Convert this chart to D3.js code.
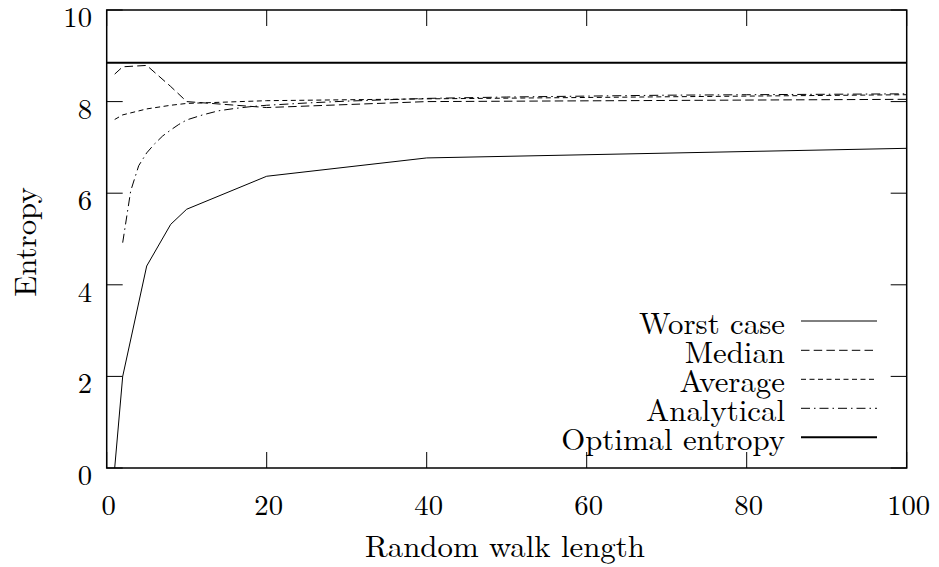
<!DOCTYPE html>
<html>
<head>
<meta charset="utf-8">
<script src="https://cdn.jsdelivr.net/npm/d3@7"></script>
<style>
  html, body { margin: 0; padding: 0; background: #fff; }
</style>
</head>
<body>
<svg id="chart" width="939" height="567"></svg>
<script>
// Walk lengths at which the simulations were sampled
const walkLengths = [1, 2, 5, 8, 10, 20, 40, 100];
const worstCase = [0, 2.0, 4.41, 5.32, 5.65, 6.37, 6.77, 6.98];
const median = [8.6, 8.76, 8.79, 8.33, 8.0, 7.87, 8.0, 8.05];
const average = [7.61, 7.71, 7.84, 7.92, 7.96, 8.02, 8.06, 8.15];

// Analytical prediction, evaluated on a finer grid
const analyticalX = [2, 3, 4, 5, 6, 7, 8, 9, 10, 12, 14, 16, 18, 20, 25, 30, 40, 50, 60, 70, 80, 90, 100];
const analyticalY = [4.92, 6.05, 6.6, 6.88, 7.08, 7.25, 7.38, 7.5, 7.6, 7.71, 7.8, 7.85, 7.89, 7.92, 7.97, 8.01, 8.07, 8.1, 8.12, 8.14, 8.15, 8.16, 8.17];

// Optimal entropy bound
const optimalX = [0, 100];
const optimalY = [8.85, 8.85];

const xTicks = [0, 20, 40, 60, 80, 100];
const yTicks = [0, 2, 4, 6, 8, 10];

const seriesNames = ["Worst case", "Median", "Average", "Analytical", "Optimal entropy"];

// Pick the first installed serif face (measured against two different fallbacks)
const candidates = ["Latin Modern Roman", "CMU Serif", "Liberation Serif", "DejaVu Serif", "Noto Serif",
  "Tinos", "Times New Roman", "FreeSerif", "Nimbus Roman", "TeX Gyre Termes"];
const ctx = document.createElement("canvas").getContext("2d");
function installed(name) {
  const probe = "Random walk length 0123456789";
  ctx.font = `40px monospace`; const m0 = ctx.measureText(probe).width;
  ctx.font = `40px sans-serif`; const s0 = ctx.measureText(probe).width;
  ctx.font = `40px "${name}", monospace`; const m1 = ctx.measureText(probe).width;
  ctx.font = `40px "${name}", sans-serif`; const s1 = ctx.measureText(probe).width;
  return m1 !== m0 || s1 !== s0;
}
const face = candidates.find(installed);
const fontFamily = face ? `"${face}", serif` : "serif";

const svg = d3.select("#chart");
const plotLeft = 106.7, plotRight = 906.7, plotTop = 10, plotBottom = 468;

const x = d3.scaleLinear().domain([0, 100]).range([plotLeft, plotRight]);
const y = d3.scaleLinear().domain([0, 10]).range([plotBottom, plotTop]);

const tickLen = 16;

// Size text so that a sample string spans a given width in the chosen face
function sizeFor(sample, width) {
  ctx.font = `100px ${fontFamily}`;
  return 100 * width / ctx.measureText(sample).width;
}
const tickSize = Math.min(32, sizeFor("100", 43));
const labelSize = Math.min(36, sizeFor("Random walk length", 280));

function label(sel, size) {
  return sel.attr("font-family", fontFamily).attr("font-size", size).attr("fill", "#000");
}

// Ticks on all four sides, pointing inward
const g = svg.append("g");
xTicks.forEach(t => {
  g.append("line").attr("x1", x(t)).attr("x2", x(t)).attr("y1", plotBottom).attr("y2", plotBottom - tickLen)
    .attr("stroke", "#000").attr("stroke-width", 1);
  g.append("line").attr("x1", x(t)).attr("x2", x(t)).attr("y1", plotTop).attr("y2", plotTop + tickLen)
    .attr("stroke", "#000").attr("stroke-width", 1);
  label(g.append("text"), tickSize).attr("x", x(t) + 2).attr("y", 515).attr("text-anchor", "middle").text(t);
});
yTicks.forEach(t => {
  g.append("line").attr("x1", plotLeft).attr("x2", plotLeft + tickLen).attr("y1", y(t)).attr("y2", y(t))
    .attr("stroke", "#000").attr("stroke-width", 1);
  g.append("line").attr("x1", plotRight).attr("x2", plotRight - tickLen).attr("y1", y(t)).attr("y2", y(t))
    .attr("stroke", "#000").attr("stroke-width", 1);
  label(g.append("text"), tickSize).attr("x", 92).attr("y", y(t) + 17).attr("text-anchor", "end").text(t);
});

// Axis titles
label(svg.append("text"), labelSize).attr("x", 505).attr("y", 557).attr("text-anchor", "middle")
  .text("Random walk length");
label(svg.append("text"), labelSize).attr("transform", "translate(36,242) rotate(-90)").attr("text-anchor", "middle")
  .text("Entropy");

// Series lines
const line = d3.line().x(d => x(d[0])).y(d => y(d[1]));
const styles = [
  { dash: null, width: 1 },
  { dash: "8.5,4.2", width: 1 },
  { dash: "5,3.5", width: 1 },
  { dash: "9,4,1.5,4", width: 1 },
  { dash: null, width: 2 }
];
const seriesData = [
  d3.zip(walkLengths, worstCase),
  d3.zip(walkLengths, median),
  d3.zip(walkLengths, average),
  d3.zip(analyticalX, analyticalY),
  d3.zip(optimalX, optimalY)
];

const plot = svg.append("g");
seriesData.forEach((d, i) => {
  plot.append("path").datum(d).attr("d", line).attr("fill", "none")
    .attr("stroke", "#000").attr("stroke-width", styles[i].width)
    .attr("stroke-dasharray", styles[i].dash);
});

// Legend
const legendY = [321, 350.3, 379.3, 408.3, 437.3];
seriesNames.forEach((name, i) => {
  label(svg.append("text"), labelSize).attr("x", 785).attr("y", legendY[i] + 13).attr("text-anchor", "end").text(name);
  svg.append("line").attr("x1", 801).attr("x2", 877).attr("y1", legendY[i]).attr("y2", legendY[i])
    .attr("stroke", "#000").attr("stroke-width", styles[i].width)
    .attr("stroke-dasharray", styles[i].dash);
});

// Plot frame
svg.append("rect").attr("x", plotLeft).attr("y", plotTop).attr("width", plotRight - plotLeft).attr("height", plotBottom - plotTop)
  .attr("fill", "none").attr("stroke", "#000").attr("stroke-width", 1.5);
</script>
</body>
</html>
